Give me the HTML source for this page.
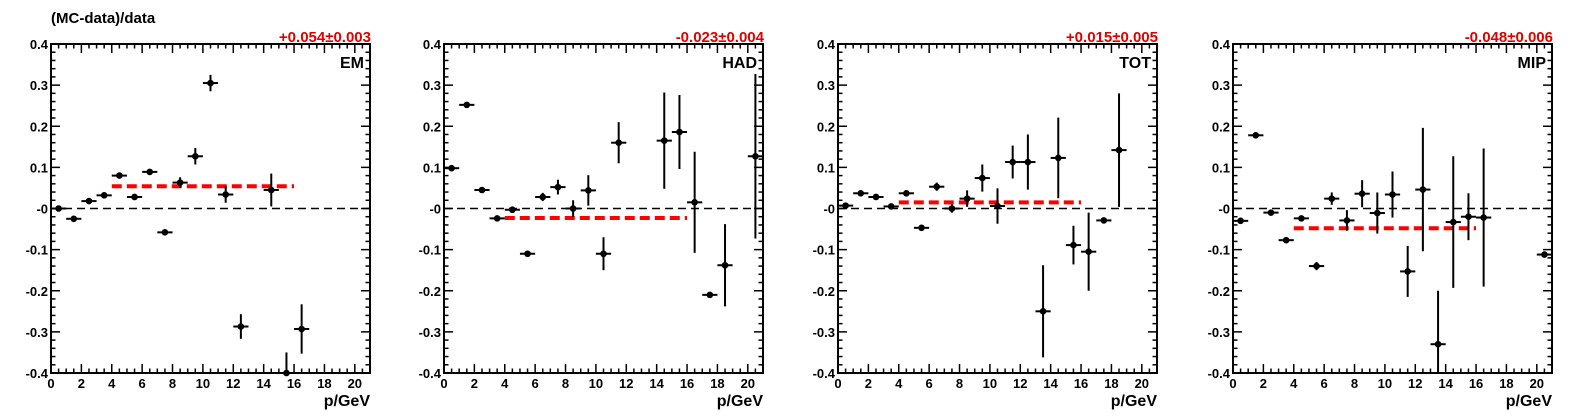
<!DOCTYPE html>
<html><head><meta charset="utf-8"><style>
html,body{margin:0;padding:0;background:#fff}
svg{display:block;font-family:"Liberation Sans",Arial,sans-serif;font-weight:bold}
</style></head><body>
<svg id="c" width="1575" height="419" xmlns="http://www.w3.org/2000/svg">
<text x="51" y="23" font-size="15">(MC-data)/data</text>
</svg>
<script>
const panelNames = ["EM","HAD","TOT","MIP"];
const fitLabels = ["+0.054\u00b10.003","-0.023\u00b10.004","+0.015\u00b10.005","-0.048\u00b10.006"];
const fitValues = [0.054,-0.023,0.015,-0.048];
const xTickLabels = ["0","2","4","6","8","10","12","14","16","18","20"];
const yTickLabels = ["-0.4","-0.3","-0.2","-0.1","-0","0.1","0.2","0.3","0.4"];
const emX = [0.5,1.5,2.5,3.5,4.5,5.5,6.5,7.5,8.5,9.5,10.5,11.5,12.5,14.5,15.5,16.5];
const emY = [0,-0.025,0.018,0.032,0.08,0.028,0.089,-0.058,0.063,0.127,0.305,0.034,-0.287,0.045,-0.4,-0.293];
const emE = [0,0,0,0,0,0,0,0,0.013,0.02,0.02,0.02,0.03,0.04,0.05,0.06];
const hadX = [0.5,1.5,2.5,3.5,4.5,5.5,6.5,7.5,8.5,9.5,10.5,11.5,14.5,15.5,16.5,17.5,18.5,20.5];
const hadY = [0.098,0.252,0.045,-0.024,-0.003,-0.11,0.028,0.052,0,0.044,-0.11,0.16,0.165,0.186,0.015,-0.21,-0.138,0.127];
const hadE = [0,0,0,0,0,0,0.01,0.018,0.02,0.037,0.04,0.05,0.117,0.09,0.123,0,0.1,0.2];
const totX = [0.5,1.5,2.5,3.5,4.5,5.5,6.5,7.5,8.5,9.5,10.5,11.5,12.5,13.5,14.5,15.5,16.5,17.5,18.5];
const totY = [0.007,0.037,0.028,0.005,0.037,-0.047,0.053,0,0.024,0.074,0.006,0.113,0.113,-0.25,0.123,-0.089,-0.105,-0.029,0.142];
const totE = [0,0,0,0,0,0,0.01,0.01,0.02,0.033,0.043,0.04,0.067,0.112,0.098,0.047,0.095,0,0.138];
const mipX = [0.5,1.5,2.5,3.5,4.5,5.5,6.5,7.5,8.5,9.5,10.5,11.5,12.5,13.5,14.5,15.5,16.5,20.5];
const mipY = [-0.03,0.178,-0.01,-0.077,-0.024,-0.14,0.024,-0.029,0.036,-0.011,0.034,-0.153,0.046,-0.33,-0.033,-0.02,-0.022,-0.112];
const mipE = [0,0,0,0,0,0.01,0.015,0.025,0.033,0.05,0.056,0.062,0.15,0.13,0.16,0.057,0.168,0];
const seriesX=[emX,hadX,totX,mipX], seriesY=[emY,hadY,totY,mipY], seriesE=[emE,hadE,totE,mipE];
const fitRange=[4,16];
const svgEl=document.getElementById('c');
const NS='http://www.w3.org/2000/svg';
function mk(t,a,p){const e=document.createElementNS(NS,t);for(const k in a)e.setAttribute(k,a[k]);(p||svgEl).appendChild(e);return e;}
const lefts=[51,444,838,1233], PW=319, plotTop=44, plotBot=373;
for(let p=0;p<4;p++){
  const L=lefts[p], R=L+PW;
  const sx=v=>L+v/21*PW, sy=v=>plotTop+(0.4-v)/0.8*(plotBot-plotTop);
  const g=mk('g',{});
  
  
  for(let i=0;i<=42;i++){const v=i*0.5,x=sx(v),len=(i%4==0)?9:4.5;
    mk('line',{x1:x,x2:x,y1:plotBot,y2:plotBot-len,stroke:'#000','stroke-width':1.5},g);
    mk('line',{x1:x,x2:x,y1:plotTop,y2:plotTop+len,stroke:'#000','stroke-width':1.5},g);}
  for(let i=0;i<=40;i++){const v=-0.4+i*0.02,y=sy(v),len=(i%5==0)?9:4.5;
    mk('line',{x1:L,x2:L+len,y1:y,y2:y,stroke:'#000','stroke-width':1.5},g);
    mk('line',{x1:R,x2:R-len,y1:y,y2:y,stroke:'#000','stroke-width':1.5},g);}
  xTickLabels.forEach((t,i)=>{const e=mk('text',{x:sx(i*2),y:plotBot+15,'font-size':13,'text-anchor':'middle'},g);e.textContent=t;
    });
  yTickLabels.forEach((t,i)=>{const e=mk('text',{x:L-3,y:sy(-0.4+i*0.1)+5,'font-size':13,'text-anchor':'end'},g);e.textContent=t;
    });
  const xt=mk('text',{x:R,y:plotBot+33,'font-size':16,'text-anchor':'end'},g);xt.textContent='p/GeV';
  
  const ft=mk('text',{x:R+1,y:plotTop-2,'font-size':15,'text-anchor':'end',fill:'#e00000'},g);ft.textContent=fitLabels[p];
  
  const pn=mk('text',{x:R-6,y:plotTop+24,'font-size':16,'text-anchor':'end'},g);pn.textContent=panelNames[p];
  
  const z=mk('line',{x1:sx(0),x2:sx(21),y1:sy(0),y2:sy(0),stroke:'#000','stroke-width':1.5,'stroke-dasharray':'8,5'},g);
  
  const fl=mk('line',{x1:sx(fitRange[0]),x2:sx(fitRange[1]),y1:sy(fitValues[p]),y2:sy(fitValues[p]),stroke:'#ff0000','stroke-width':4,'stroke-dasharray':'10,5'},g);
  
  const X=seriesX[p],Y=seriesY[p],E=seriesE[p];
  for(let i=0;i<X.length;i++){
    const pg=mk('g',{},g);
    
    
    const cx=sx(X[i]),cy=sy(Y[i]);
    mk('line',{x1:sx(X[i]-0.5),x2:sx(X[i]+0.5),y1:cy,y2:cy,stroke:'#000','stroke-width':2},pg);
    if(E[i]>0){const y1=Math.max(plotTop,Math.min(plotBot,sy(Y[i]+E[i]))),y2=Math.max(plotTop,Math.min(plotBot,sy(Y[i]-E[i])));
      mk('line',{x1:cx,x2:cx,y1:y1,y2:y2,stroke:'#000','stroke-width':2},pg);}
    mk('circle',{cx:cx,cy:cy,r:3.3,fill:'#000'},pg);
  }
  const fr=mk('rect',{x:L,y:plotTop,width:PW,height:plotBot-plotTop,fill:'none',stroke:'#000','stroke-width':2},g);
  
  
}
</script>
</body></html>
